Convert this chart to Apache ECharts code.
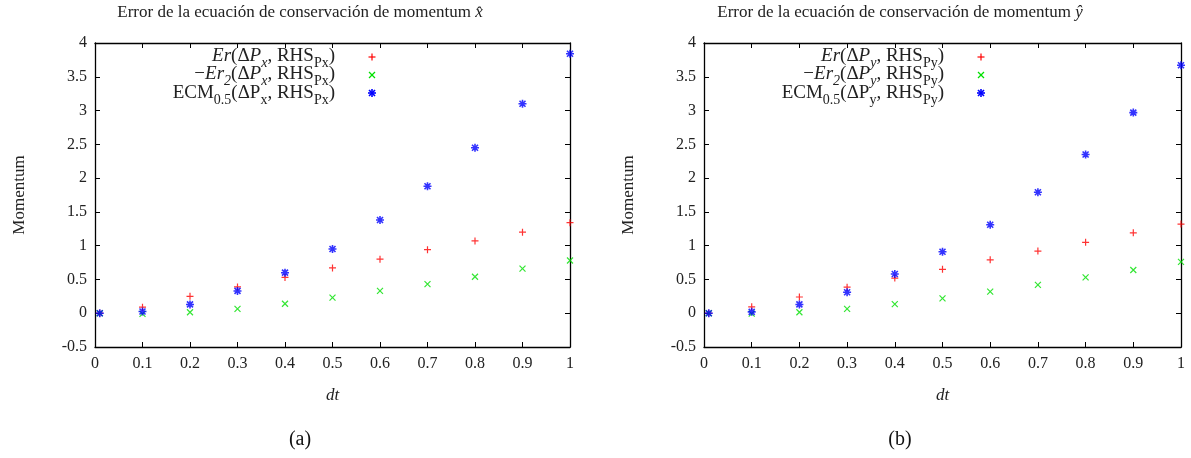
<!DOCTYPE html>
<html>
<head>
<meta charset="utf-8">
<script src="https://cdn.jsdelivr.net/npm/echarts@6/dist/echarts.min.js"></script>
<style>
  html, body { margin: 0; padding: 0; background: #fff; }
  #chart { width: 1191px; height: 458px; }
</style>
</head>
<body>
<div id="chart"></div>
<script>
// Time steps (dt) shared by both panels
const dtValues = [0.01, 0.1, 0.2, 0.3, 0.4, 0.5, 0.6, 0.7, 0.8, 0.9, 1.0];

// Panel (a): x-momentum equation errors
const erPx  = [0, 0.09, 0.25, 0.39, 0.53, 0.67, 0.80, 0.94, 1.07, 1.20, 1.34];
const er2Px = [0, -0.01, 0.015, 0.065, 0.14, 0.23, 0.33, 0.43, 0.54, 0.66, 0.78];
const ecmPx = [0, 0.025, 0.13, 0.33, 0.60, 0.95, 1.38, 1.88, 2.45, 3.10, 3.84];

// Panel (b): y-momentum equation errors
const erPy  = [0, 0.095, 0.24, 0.385, 0.52, 0.65, 0.79, 0.92, 1.05, 1.19, 1.32];
const er2Py = [0, -0.005, 0.015, 0.065, 0.135, 0.22, 0.32, 0.42, 0.53, 0.64, 0.76];
const ecmPy = [0, 0.02, 0.13, 0.31, 0.58, 0.91, 1.31, 1.79, 2.35, 2.97, 3.67];

// Tick labels
const xTickLabels = ['0', '0.1', '0.2', '0.3', '0.4', '0.5', '0.6', '0.7', '0.8', '0.9', '1'];
const yTickLabels = ['-0.5', '0', '0.5', '1', '1.5', '2', '2.5', '3', '3.5', '4'];

const SERIF = '"Liberation Serif", "DejaVu Serif", serif';
const RED = '#ff0000', GREEN = '#00e000', BLUE = '#0000ff';

const PLUS  = 'path://M0,4L8,4M4,0L4,8';
const CROSS = 'path://M0,0L8,8M8,0L0,8';
const STAR  = 'path://M0,4L8,4M4,0L4,8M1,1L7,7M7,1L1,7';

const panels = [
  { left: 95,  width: 475, center: 300, axisName: 'x', series: [erPx, er2Px, ecmPx] },
  { left: 704, width: 477, center: 900, axisName: 'y', series: [erPy, er2Py, ecmPy] }
];
const TOP = 43, HEIGHT = 304;

function pairs(ys) { return dtValues.map((x, i) => [x, ys[i]]); }
function xLabel(v) { return xTickLabels[Math.round(v * 10)]; }
function yLabel(v) { return yTickLabels[Math.round((v + 0.5) * 2)]; }

const frameLine = { show: true, onZero: false, lineStyle: { color: '#000', width: 1.3 } };
const tick = { show: true, inside: true, length: 5, lineStyle: { color: '#000', width: 1 } };
const labelFont = { fontFamily: SERIF, fontSize: 16, color: '#222' };

const grid = [], xAxis = [], yAxis = [], series = [], graphic = [];

panels.forEach((p, k) => {
  grid.push({ left: p.left, top: TOP, width: p.width, height: HEIGHT, containLabel: false });
  const xb = xAxis.length;
  xAxis.push({
    gridIndex: k, type: 'value', min: 0, max: 1, interval: 0.1, position: 'bottom',
    axisLine: frameLine, axisTick: tick, splitLine: { show: false },
    axisLabel: Object.assign({ margin: 9, formatter: xLabel }, labelFont),
    name: 'dt', nameLocation: 'middle', nameGap: 40,
    nameTextStyle: { fontFamily: SERIF, fontSize: 17, fontStyle: 'italic', color: '#222' }
  });
  xAxis.push({
    gridIndex: k, type: 'value', min: 0, max: 1, interval: 0.1, position: 'top',
    axisLine: frameLine, axisTick: tick, splitLine: { show: false }, axisLabel: { show: false }
  });
  const yb = yAxis.length;
  yAxis.push({
    gridIndex: k, type: 'value', min: -0.5, max: 4, interval: 0.5, position: 'left',
    axisLine: frameLine, axisTick: tick, splitLine: { show: false },
    axisLabel: Object.assign({ margin: 8, formatter: yLabel }, labelFont),
    name: 'Momentum', nameLocation: 'middle', nameGap: 67, nameRotate: 90,
    nameTextStyle: { fontFamily: SERIF, fontSize: 17, color: '#222' }
  });
  yAxis.push({
    gridIndex: k, type: 'value', min: -0.5, max: 4, interval: 0.5, position: 'right',
    axisLine: frameLine, axisTick: tick, splitLine: { show: false }, axisLabel: { show: false }
  });

  const defs = [
    { symbol: PLUS,  size: 7, color: RED,   width: 1.2 },
    { symbol: CROSS, size: 6, color: GREEN, width: 1.2 },
    { symbol: STAR,  size: 8, color: BLUE,  width: 1.6 }
  ];
  defs.forEach((d, j) => {
    series.push({
      type: 'scatter', xAxisIndex: xb, yAxisIndex: yb,
      data: pairs(p.series[j]), symbol: d.symbol, symbolSize: d.size,
      itemStyle: { color: 'transparent', borderColor: d.color, borderWidth: d.width },
      emphasis: { disabled: true }, z: 3 + (j === 2 ? 1 : 0)
    });
  });

  // Panel title
  graphic.push({
    type: 'text', x: p.center, y: 13,
    style: {
      text: '{r|Error de la ecuación de conservación de momentum }{i|' + p.axisName + '\u0302}',
      align: 'center', verticalAlign: 'middle',
      rich: {
        r: { fontFamily: SERIF, fontSize: 17, fill: '#222' },
        i: { fontFamily: SERIF, fontSize: 17, fontStyle: 'italic', fill: '#222' }
      }
    }
  });
  // Subfigure tag
  graphic.push({
    type: 'text', x: p.center, y: 440,
    style: { text: '(' + (k === 0 ? 'a' : 'b') + ')', align: 'center', verticalAlign: 'middle',
      font: '20px ' + SERIF, fill: '#111' }
  });

  // Key: right-aligned labels with marker column
  const a = p.axisName;
  const sub = 'P' + a;
  const rich = {
    r:  { fontFamily: SERIF, fontSize: 19, fill: '#222', lineHeight: 20 },
    i:  { fontFamily: SERIF, fontSize: 19, fontStyle: 'italic', fill: '#222', lineHeight: 20 },
    s:  { fontFamily: SERIF, fontSize: 14, fill: '#222', verticalAlign: 'bottom', lineHeight: 14, padding: [0, 0, -4, 0] },
    si: { fontFamily: SERIF, fontSize: 14, fontStyle: 'italic', fill: '#222', verticalAlign: 'bottom', lineHeight: 14, padding: [0, 0, -4, 0] }
  };
  const keyTexts = [
    '{i|Er}{r|(Δ}{i|P}{si|' + a + '}{r|, RHS}{s|' + sub + '}{r|)}',
    '{r|−}{i|Er}{si|2}{r|(Δ}{i|P}{si|' + a + '}{r|, RHS}{s|' + sub + '}{r|)}',
    '{r|ECM}{s|0.5}{r|(ΔP}{s|' + a + '}{r|, RHS}{s|' + sub + '}{r|)}'
  ];
  const keyX = p.left + 240, markX = p.left + 277;
  const rowsY = [56, 74, 93];
  keyTexts.forEach((t, j) => {
    graphic.push({
      type: 'text', x: keyX, y: rowsY[j],
      style: { text: t, rich: rich, align: 'right', verticalAlign: 'middle' }
    });
  });
  const h = 3.5;
  const mk = (x, y, segs, color, w) => ({
    type: 'group', x: x, y: y,
    children: segs.map(s => ({ type: 'line', shape: { x1: s[0], y1: s[1], x2: s[2], y2: s[3] },
      style: { stroke: color, lineWidth: w } }))
  });
  graphic.push(mk(markX, rowsY[0] + 1, [[-h, 0, h, 0], [0, -h, 0, h]], RED, 1.2));
  graphic.push(mk(markX, rowsY[1] + 1, [[-3, -3, 3, 3], [3, -3, -3, 3]], GREEN, 1.2));
  graphic.push(mk(markX, rowsY[2], [[-4, 0, 4, 0], [0, -4, 0, 4], [-3, -3, 3, 3], [3, -3, -3, 3]], BLUE, 1.6));
});

const chart = echarts.init(document.getElementById('chart'), null, { renderer: 'canvas' });
chart.setOption({
  animation: false,
  backgroundColor: '#fff',
  grid, xAxis, yAxis, series, graphic
});
</script>
</body>
</html>
